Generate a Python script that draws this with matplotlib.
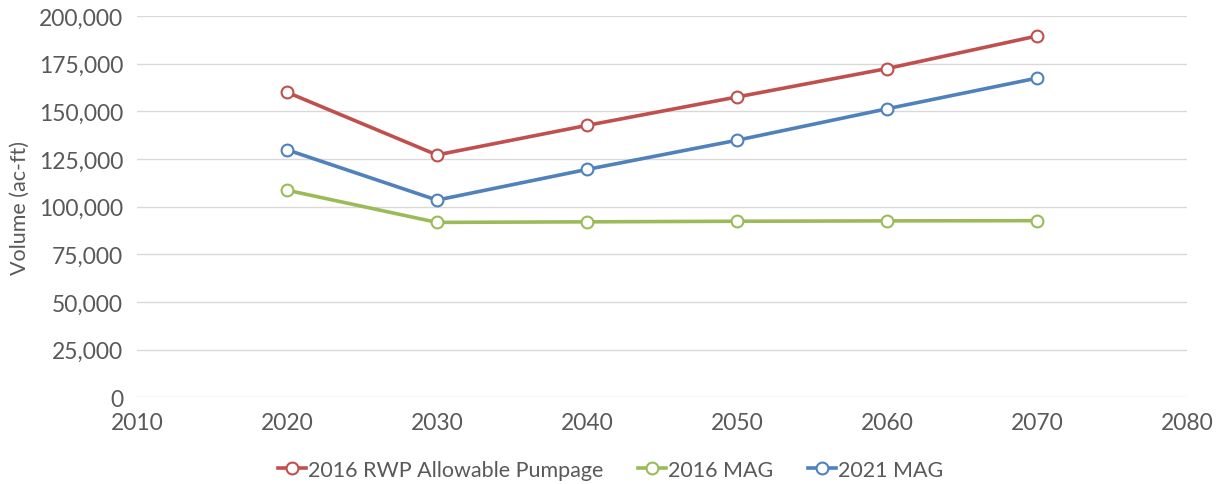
# Groundwater volumes: RWP allowable pumpage vs MAG
import matplotlib.pyplot as plt
import matplotlib.ticker as mticker

# Data
years = [2020, 2030, 2040, 2050, 2060, 2070]
rwp_2016 = [160000, 127100, 142600, 157500, 172400, 189500]
mag_2016 = [108600, 91700, 92000, 92300, 92500, 92600]
mag_2021 = [129800, 103400, 119500, 134800, 151300, 167400]
xticks = [2010, 2020, 2030, 2040, 2050, 2060, 2070, 2080]
yticks = [0, 25000, 50000, 75000, 100000, 125000, 150000, 175000, 200000]

plt.rcParams['font.family'] = ['Lato', 'DejaVu Sans']
txt = '#595959'

fig = plt.figure(figsize=(12.26, 4.85), dpi=100)
ax = fig.add_axes([0.1117, 0.179, 0.8565, 0.786])

series = [(rwp_2016, '#C0504D', '2016 RWP Allowable Pumpage'),
          (mag_2016, '#9BBB59', '2016 MAG'),
          (mag_2021, '#4F81BD', '2021 MAG')]
for vals, col, lab in series:
    ax.plot(years, vals, color=col, lw=2.6, marker='o', ms=8.5,
            mfc='white', mec=col, mew=1.5, label=lab, zorder=3)

ax.set_xlim(2010, 2080)
ax.set_ylim(0, 200000)
ax.set_xticks(xticks)
ax.set_yticks(yticks)
ax.yaxis.set_major_formatter(mticker.FuncFormatter(lambda v, p: f'{int(v):,}'))
ax.grid(axis='y', color='#D9D9D9', lw=1)
ax.set_axisbelow(True)
for s in ax.spines.values():
    s.set_visible(False)
ax.tick_params(length=0, labelsize=16.5, colors=txt, pad=11)
ax.tick_params(axis='y', pad=10)
ax.set_ylabel('Volume (ac-ft)', fontsize=15.5, color=txt, labelpad=6)

leg = ax.legend(loc='upper center', bbox_to_anchor=(0.451, -0.113), ncol=3,
                frameon=False, fontsize=15.5, handlelength=1.3,
                handletextpad=0.1, columnspacing=1.6)
for t in leg.get_texts():
    t.set_color(txt)

plt.savefig('out.png', dpi=100)
